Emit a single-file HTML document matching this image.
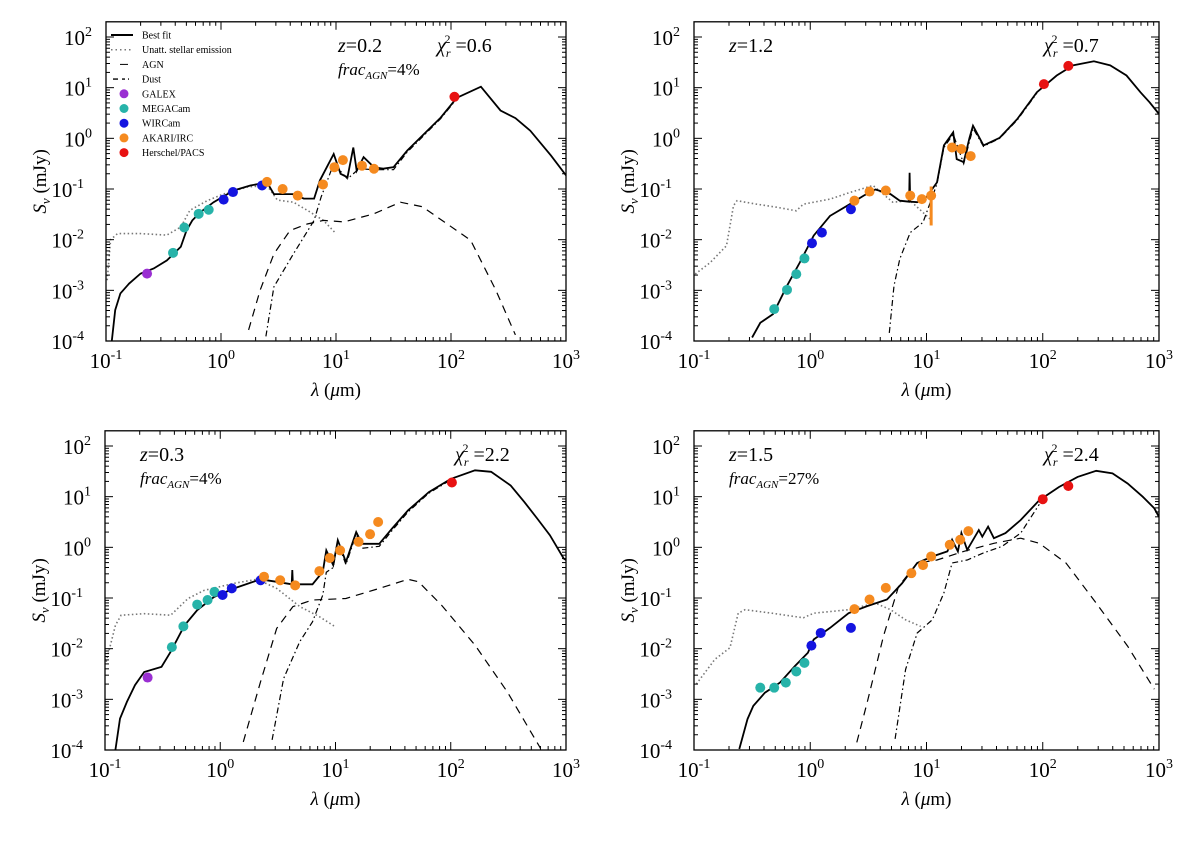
<!DOCTYPE html>
<html><head><meta charset="utf-8"><style>
body{margin:0;background:#fff}
svg{display:block;font-family:"Liberation Serif",serif}
</style></head><body>
<svg id="fig" width="1200" height="841" viewBox="0 0 1200 841"></svg>
<script>
// ---- data (log10 lambda [um], log10 S [mJy]) ----
const tickExps = [-1,0,1,2,3];
const yTickExps = [-4,-3,-2,-1,0,1,2];
// Panel 1
const p1BestX=[-0.95,-0.92,-0.875,-0.80,-0.70,-0.585,-0.47,-0.35,-0.30,-0.25,-0.18,-0.064,0.11,0.255,0.40,0.46,0.63,0.72,0.81,0.86,0.92,0.98,1.04,1.10,1.15,1.18,1.24,1.33,1.41,1.50,1.62,1.91,2.05,2.26,2.43,2.56,2.69,2.87,3.0];
const p1BestY=[-4,-3.39,-3.06,-2.87,-2.67,-2.57,-2.41,-2.14,-1.82,-1.62,-1.46,-1.26,-1.03,-0.93,-0.87,-1.10,-1.10,-1.19,-1.19,-0.83,-0.57,-0.31,-0.70,-0.77,-0.18,-0.64,-0.37,-0.57,-0.60,-0.57,-0.24,0.41,0.80,1.02,0.55,0.40,0.15,-0.34,-0.73];
const p1StarX=[-0.99,-0.96,-0.90,-0.70,-0.47,-0.35,-0.27,-0.12,0.02,0.23,0.40,0.49,0.63,0.75,0.89,1.0];
const p1StarY=[-2.8,-2.0,-1.88,-1.88,-1.91,-1.75,-1.42,-1.23,-1.1,-0.96,-0.93,-1.22,-1.26,-1.42,-1.62,-1.88];
const p1AgnX=[0.24,0.34,0.46,0.60,0.75,0.89,1.07,1.33,1.56,1.75,2.17,2.39,2.56];
const p1AgnY=[-3.78,-3.0,-2.28,-1.82,-1.69,-1.62,-1.65,-1.49,-1.26,-1.35,-2.01,-3.0,-3.88];
const p1DustX=[0.39,0.46,0.63,0.72,0.81,0.87,0.98,1.10,1.20,1.33,1.50,1.62,1.91,2.05];
const p1DustY=[-3.91,-2.93,-2.28,-1.95,-1.62,-1.16,-0.50,-0.80,-0.60,-0.62,-0.62,-0.27,0.39,0.78];
const p1PhotX=[-0.643,-0.417,-0.319,-0.194,-0.107,0.023,0.104,0.357,0.40,0.536,0.667,0.887,0.986,1.06,1.226,1.33,2.03];
const p1PhotY=[-2.67,-2.26,-1.76,-1.49,-1.41,-1.21,-1.06,-0.93,-0.86,-1.0,-1.13,-0.91,-0.57,-0.43,-0.54,-0.60,0.82];
const p1PhotBand=["g","m","m","m","m","w","w","w","a","a","a","a","a","a","a","a","h"];
// Panel 2
const p2BestX=[-0.50,-0.43,-0.32,-0.20,-0.09,0.03,0.17,0.34,0.46,0.56,0.69,0.77,0.85,0.855,0.86,0.92,1.0,1.09,1.15,1.23,1.26,1.32,1.37,1.40,1.49,1.63,1.78,1.95,2.12,2.26,2.44,2.58,2.72,2.84,2.92,3.0];
const p2BestY=[-3.93,-3.64,-3.47,-2.91,-2.45,-1.92,-1.53,-1.30,-1.13,-1.01,-1.10,-1.23,-1.25,-0.68,-1.25,-1.26,-1.16,-0.87,-0.14,0.12,-0.41,-0.47,0.01,0.25,-0.14,0.01,0.38,0.91,1.24,1.44,1.52,1.44,1.24,0.91,0.71,0.48];
const p2StarX=[-0.99,-0.86,-0.72,-0.66,-0.63,-0.46,-0.29,-0.12,-0.06,0.17,0.34,0.54,0.71,0.86,1.03];
const p2StarY=[-2.68,-2.45,-2.12,-1.33,-1.23,-1.30,-1.36,-1.43,-1.30,-1.20,-1.07,-0.93,-1.26,-1.23,-1.59];
const p2DustX=[0.68,0.72,0.77,0.86,0.97,1.09,1.15,1.23,1.32,1.40,1.49,1.63,1.78,1.95];
const p2DustY=[-3.84,-2.91,-2.38,-1.86,-1.66,-0.90,-0.18,0.08,-0.50,0.20,-0.16,0.0,0.36,0.89];
const p2PhotX=[-0.31,-0.20,-0.12,-0.05,0.015,0.10,0.35,0.38,0.51,0.65,0.86,0.96,1.04,1.22,1.30,1.38,2.01,2.22];
const p2PhotY=[-3.37,-2.99,-2.68,-2.37,-2.07,-1.86,-1.40,-1.23,-1.05,-1.03,-1.13,-1.20,-1.13,-0.18,-0.21,-0.35,1.07,1.43];
const p2PhotBand=["m","m","m","m","w","w","w","a","a","a","a","a","a","a","a","a","h","h"];
const p2ErrX=[1.04];
const p2ErrLo=[-1.72];
const p2ErrHi=[-0.95];
// Panel 3
const p3BestX=[-0.91,-0.87,-0.81,-0.74,-0.66,-0.51,-0.43,-0.31,-0.20,-0.055,0.12,0.35,0.49,0.62,0.625,0.63,0.80,0.89,0.92,0.98,1.02,1.09,1.18,1.23,1.38,1.49,1.63,1.81,2.0,2.21,2.35,2.52,2.64,2.75,2.86,2.98,3.0];
const p3BestY=[-4,-3.38,-3.05,-2.72,-2.46,-2.36,-2.06,-1.54,-1.24,-0.98,-0.81,-0.63,-0.68,-0.73,-0.45,-0.73,-0.73,-0.48,-0.06,-0.35,0.14,-0.29,0.30,0.07,0.07,0.37,0.73,1.09,1.35,1.52,1.49,1.22,0.89,0.57,0.24,-0.22,-0.25];
const p3StarX=[-0.99,-0.91,-0.86,-0.66,-0.43,-0.28,-0.14,0.12,0.32,0.49,0.69,0.86,1.0];
const p3StarY=[-2.26,-1.54,-1.34,-1.31,-1.34,-1.01,-0.85,-0.71,-0.63,-0.81,-1.17,-1.37,-1.57];
const p3AgnX=[0.20,0.35,0.49,0.63,0.80,1.09,1.38,1.63,1.72,1.92,2.21,2.49,2.78];
const p3AgnY=[-3.84,-2.65,-1.60,-1.17,-1.04,-1.01,-0.81,-0.63,-0.68,-1.14,-1.93,-2.85,-3.97];
const p3DustX=[0.45,0.55,0.69,0.80,0.89,0.92,0.98,1.02,1.09,1.18,1.23,1.38,1.49,1.63,1.81,2.0];
const p3DustY=[-3.80,-2.59,-1.86,-1.47,-0.94,-0.49,-0.40,0.10,-0.34,0.26,-0.02,0.02,0.33,0.70,1.07,1.33];
const p3PhotX=[-0.63,-0.42,-0.32,-0.20,-0.11,-0.05,0.02,0.10,0.35,0.38,0.52,0.65,0.86,0.95,1.04,1.20,1.30,1.37,2.01];
const p3PhotY=[-2.57,-1.97,-1.56,-1.13,-1.04,-0.88,-0.94,-0.81,-0.65,-0.58,-0.65,-0.75,-0.47,-0.21,-0.06,0.11,0.26,0.50,1.28];
const p3PhotBand=["g","m","m","m","m","m","w","w","w","a","a","a","a","a","a","a","a","a","h"];
// Panel 4
const p4BestX=[-0.61,-0.54,-0.49,-0.39,-0.26,-0.13,-0.02,0.03,0.17,0.33,0.49,0.66,0.79,0.92,1.05,1.18,1.22,1.27,1.30,1.35,1.45,1.48,1.53,1.58,1.68,1.81,1.97,2.14,2.30,2.46,2.60,2.73,2.86,2.96,3.0];
const p4BestY=[-3.98,-3.39,-3.13,-2.87,-2.67,-2.34,-2.08,-1.82,-1.59,-1.30,-1.16,-1.03,-0.71,-0.31,-0.18,-0.08,0.15,-0.08,0.28,-0.05,0.34,0.21,0.41,0.18,0.28,0.54,0.93,1.19,1.39,1.51,1.46,1.26,1.00,0.77,0.60];
const p4StarX=[-0.98,-0.82,-0.69,-0.62,-0.56,-0.33,-0.06,0.03,0.33,0.56,0.69,0.82,0.95];
const p4StarY=[-2.70,-2.21,-1.98,-1.30,-1.23,-1.30,-1.39,-1.30,-1.23,-1.10,-1.23,-1.43,-1.56];
const p4AgnX=[0.40,0.49,0.63,0.76,0.92,1.09,1.32,1.58,1.81,1.97,2.20,2.46,2.73,2.96];
const p4AgnY=[-3.85,-3.06,-1.75,-0.77,-0.31,-0.25,-0.08,0.08,0.18,0.08,-0.31,-1.10,-1.95,-2.80];
const p4DustX=[0.73,0.82,0.92,1.05,1.15,1.22,1.35,1.48,1.65,1.81,1.97];
const p4DustY=[-3.78,-2.41,-1.69,-1.43,-0.90,-0.31,-0.25,-0.12,0.02,0.28,0.85];
const p4PhotX=[-0.43,-0.31,-0.21,-0.12,-0.05,0.01,0.09,0.35,0.38,0.51,0.65,0.87,0.97,1.04,1.20,1.29,1.36,2.00,2.22];
const p4PhotY=[-2.77,-2.77,-2.67,-2.45,-2.28,-1.94,-1.69,-1.59,-1.22,-1.03,-0.80,-0.51,-0.35,-0.18,0.05,0.15,0.32,0.95,1.21];
const p4PhotBand=["m","m","m","m","m","w","w","w","a","a","a","a","a","a","a","a","a","h","h"];

const bandColor={g:"#9a2fd2",m:"#27b3a9",w:"#1414e0",a:"#f58a1f",h:"#e81212"};
const NS="http://www.w3.org/2000/svg";
const svg=document.getElementById("fig");
function mk(tag,attrs,parent){const e=document.createElementNS(NS,tag);for(const k in attrs)e.setAttribute(k,attrs[k]);(parent||svg).appendChild(e);return e;}

const panels=[
 {x0:106,x1:566,y2:37,yb:341,best:[p1BestX,p1BestY],star:[p1StarX,p1StarY],agn:[p1AgnX,p1AgnY],dust:[p1DustX,p1DustY],phot:[p1PhotX,p1PhotY,p1PhotBand],err:null,z:"0.2",frac:"4%",chi:"0.6",zx:338,chix:437},
 {x0:694,x1:1159,y2:37,yb:341,best:[p2BestX,p2BestY],star:[p2StarX,p2StarY],agn:null,dust:[p2DustX,p2DustY],phot:[p2PhotX,p2PhotY,p2PhotBand],err:[p2ErrX,p2ErrLo,p2ErrHi],z:"1.2",frac:null,chi:"0.7",zx:729,chix:1044},
 {x0:105,x1:566,y2:446,yb:750,best:[p3BestX,p3BestY],star:[p3StarX,p3StarY],agn:[p3AgnX,p3AgnY],dust:[p3DustX,p3DustY],phot:[p3PhotX,p3PhotY,p3PhotBand],err:null,z:"0.3",frac:"4%",chi:"2.2",zx:140,chix:455},
 {x0:694,x1:1159,y2:446,yb:750,best:[p4BestX,p4BestY],star:[p4StarX,p4StarY],agn:[p4AgnX,p4AgnY],dust:[p4DustX,p4DustY],phot:[p4PhotX,p4PhotY,p4PhotBand],err:null,z:"1.5",frac:"27%",chi:"2.4",zx:729,chix:1044}
];

panels.forEach((p,pi)=>{
 const sx=l=>p.x0+(l+1)*(p.x1-p.x0)/4;
 const sy=s=>p.yb-(s+4)*(p.yb-p.y2)/6;
 const top=sy(2.3);
 const g=mk("g",{});
 
 
 const clipId="c"+pi;
 const cp=mk("clipPath",{id:clipId},g);
 mk("rect",{x:p.x0,y:top,width:p.x1-p.x0,height:p.yb-top},cp);
 const plot=mk("g",{"clip-path":"url(#"+clipId+")"},g);
 function line(arr,style,name){
  if(!arr)return;
  const d=arr[0].map((v,i)=>(i?"L":"M")+sx(v).toFixed(1)+","+sy(arr[1][i]).toFixed(1)).join("");
  const e=mk("path",Object.assign({d:d,fill:"none"},style),plot);
  
  
 }
 line(p.star,{stroke:"#777","stroke-width":1.6,"stroke-dasharray":"1.5,2.5"},'unattenuated-stellar-line');
 line(p.agn,{stroke:"#000","stroke-width":1.2,"stroke-dasharray":"8,6"},'agn-line');
 line(p.dust,{stroke:"#000","stroke-width":1.2,"stroke-dasharray":"6,3,1.5,3"},'dust-line');
 line(p.best,{stroke:"#000","stroke-width":1.8},'best-fit-line');
 if(p.err){
  p.err[0].forEach((v,i)=>{
   const eb=mk("line",{x1:sx(v),x2:sx(v),y1:sy(p.err[1][i]),y2:sy(p.err[2][i]),stroke:"#f58a1f","stroke-width":3},plot);
   
   
  });
 }
 const ph=p.phot;
 ph[0].forEach((v,i)=>{
  const c=mk("circle",{cx:sx(v),cy:sy(ph[1][i]),r:5,fill:bandColor[ph[2][i]]},plot);
  
  
 });
 const box=mk("rect",{x:p.x0,y:top,width:p.x1-p.x0,height:p.yb-top,fill:"none",stroke:"#000","stroke-width":1.3},g);
 
 
 tickExps.forEach(e=>{
  const X=sx(e);
  mk("line",{x1:X,x2:X,y1:p.yb,y2:p.yb-8,stroke:"#000"},g);
  mk("line",{x1:X,x2:X,y1:top,y2:top+8,stroke:"#000"},g);
  if(e<3)for(let m=2;m<10;m++){const xm=sx(e+Math.log10(m));mk("line",{x1:xm,x2:xm,y1:p.yb,y2:p.yb-4,stroke:"#000"},g);mk("line",{x1:xm,x2:xm,y1:top,y2:top+4,stroke:"#000"},g);}
  const t=mk("text",{x:X,y:p.yb+27,"font-size":21,"text-anchor":"middle"},g);
  
  
  t.innerHTML='10<tspan dy="-9" font-size="14">'+e+'</tspan>';
 });
 yTickExps.forEach(e=>{
  const Y=sy(e);
  mk("line",{x1:p.x0,x2:p.x0+8,y1:Y,y2:Y,stroke:"#000"},g);
  mk("line",{x1:p.x1,x2:p.x1-8,y1:Y,y2:Y,stroke:"#000"},g);
  for(let m=2;m<10;m++){const ym=sy(e+Math.log10(m));if(ym<top)break;mk("line",{x1:p.x0,x2:p.x0+4,y1:ym,y2:ym,stroke:"#000"},g);mk("line",{x1:p.x1,x2:p.x1-4,y1:ym,y2:ym,stroke:"#000"},g);}
  const t=mk("text",{x:p.x0-30,y:Y+8,"font-size":21,"text-anchor":"end"},g);
  
  
  t.innerHTML='10<tspan dy="-9" font-size="14">'+e+'</tspan>';
  t.setAttribute("x",p.x0-(e<0?22:14));
 });
 const xl=mk("text",{x:(p.x0+p.x1)/2,y:p.yb+55,"font-size":19,"text-anchor":"middle"},g);
 
 
 xl.innerHTML='<tspan font-style="italic">λ</tspan> (<tspan font-style="italic">μ</tspan>m)';
 const yc=(p.yb+top)/2, yx=p.x0-60;
 const yl=mk("text",{x:yx,y:yc,"font-size":19,"text-anchor":"middle",transform:"rotate(-90 "+yx+" "+yc+")"},g);
 
 
 yl.innerHTML='<tspan font-style="italic">S</tspan><tspan font-size="13" dy="4" font-style="italic">ν</tspan><tspan dy="-4"> (mJy)</tspan>';
 const zt=mk("text",{x:p.zx,y:p.y2+15,"font-size":20},g);
 
 
 zt.innerHTML='<tspan font-style="italic">z</tspan>='+p.z;
 if(p.frac){
  const ft=mk("text",{x:p.zx,y:p.y2+38,"font-size":17},g);
  
  
  ft.innerHTML='<tspan font-style="italic">frac</tspan><tspan font-style="italic" font-size="11" dy="4">AGN</tspan><tspan dy="-4">='+p.frac+'</tspan>';
 }
 const ct=mk("text",{x:p.chix,y:p.y2+15,"font-size":20},g);
 
 
 ct.innerHTML='<tspan font-style="italic">χ</tspan><tspan font-size="12" font-style="italic" dy="5">r</tspan><tspan font-size="12" dx="-6" dy="-14">2</tspan><tspan dy="9"> =' +p.chi+'</tspan>';
});

const legItems=[["line","Best fit"],["dot","Unatt. stellar emission"],["dash","AGN"],["dashdot","Dust"],["g","GALEX"],["m","MEGACam"],["w","WIRCam"],["a","AKARI/IRC"],["h","Herschel/PACS"]];
const leg=mk("g",{});


legItems.forEach((it,i)=>{
 const y=35+i*14.7;
 if(it[0]==="line")mk("line",{x1:111,x2:133,y1:y,y2:y,stroke:"#000","stroke-width":2},leg);
 else if(it[0]==="dot")mk("line",{x1:111,x2:133,y1:y,y2:y,stroke:"#777","stroke-width":1.5,"stroke-dasharray":"1.5,3"},leg);
 else if(it[0]==="dash")mk("line",{x1:120,x2:128,y1:y,y2:y,stroke:"#000","stroke-width":1},leg);
 else if(it[0]==="dashdot")mk("path",{d:"M113,"+y+"h5M122,"+y+"h3M128,"+y+"h1",stroke:"#000","stroke-width":1.4},leg);
 else mk("circle",{cx:124,cy:y,r:4.5,fill:bandColor[it[0]]},leg);
 const t=mk("text",{x:142,y:y+3.5,"font-size":10},leg);
 
 
 t.textContent=it[1];
});
</script>
</body></html>
